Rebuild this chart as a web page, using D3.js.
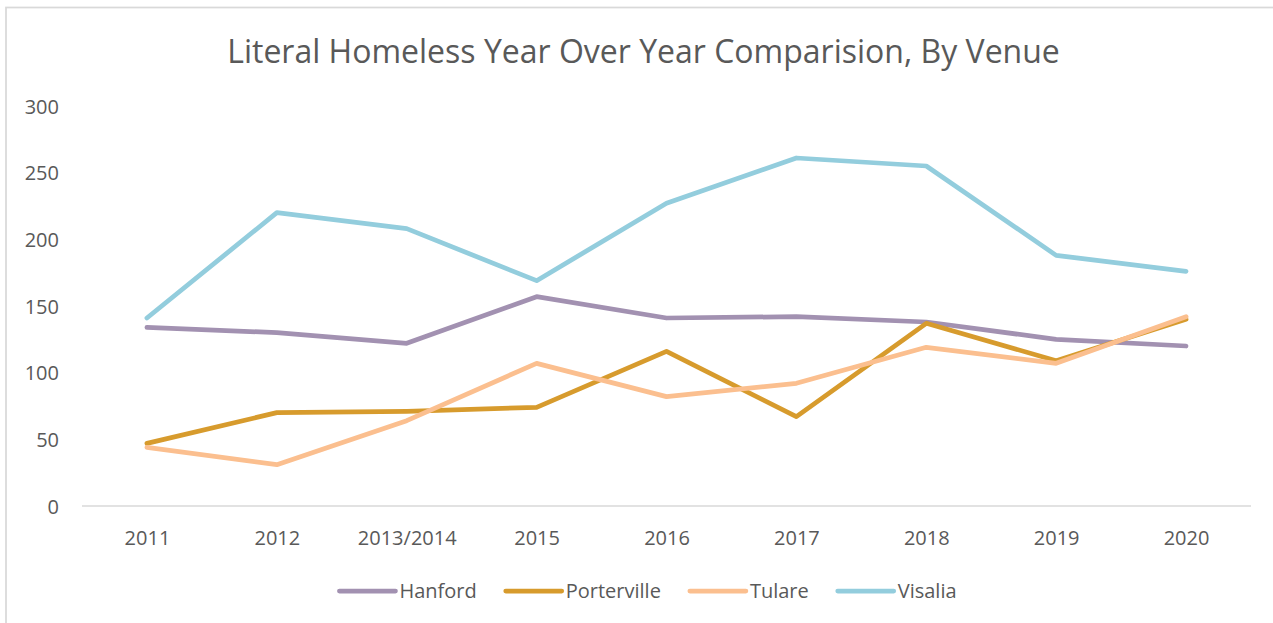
<!DOCTYPE html>
<html>
<head>
<meta charset="utf-8">
<script src="https://cdn.jsdelivr.net/npm/d3@7"></script>
<style>
  html, body { margin: 0; padding: 0; background: #ffffff; }
  svg { display: block; }
  text { font-family: "Open Sans", "Noto Sans", sans-serif; fill: #595959; }
</style>
</head>
<body>
<svg id="chart" width="1273" height="623"></svg>
<script>
// Point-in-time count categories
const years = ["2011", "2012", "2013/2014", "2015", "2016", "2017", "2018", "2019", "2020"];

// Literal homeless counts per venue
const hanford     = [134, 130, 122, 157, 141, 142, 138, 125, 120];
const porterville = [47, 70, 71, 74, 116, 67, 137, 109, 140];
const tulare      = [44, 31, 64, 107, 82, 92, 119, 107, 142];
const visalia     = [141, 220, 208, 169, 227, 261, 255, 188, 176];

const seriesNames = ["Hanford", "Porterville", "Tulare", "Visalia"];
const seriesValues = [hanford, porterville, tulare, visalia];
const seriesColors = ["#a291b1", "#d79b2d", "#fbbf8f", "#93cddd"];

const yTicks = [0, 50, 100, 150, 200, 250, 300];

const svg = d3.select("#chart");

// outer chart frame
svg.append("rect")
  .attr("x", 6).attr("y", 7.5)
  .attr("width", 1400).attr("height", 800)
  .attr("fill", "none")
  .attr("stroke", "#d9d9d9")
  .attr("stroke-width", 1.75);

const plot = { left: 82, right: 1251, top: 106, bottom: 506 };

const x = d3.scalePoint()
  .domain(years)
  .range([plot.left, plot.right])
  .padding(0.5);

const y = d3.scaleLinear()
  .domain([0, 300])
  .range([plot.bottom, plot.top]);

// title
svg.append("text")
  .attr("x", 643.5)
  .attr("y", 63)
  .attr("text-anchor", "middle")
  .style("font-size", "32px")
  .text("Literal Homeless Year Over Year Comparision, By Venue");

// y axis labels
const yAxis = d3.axisLeft(y).tickValues(yTicks).tickSize(0).tickPadding(0);
const gy = svg.append("g").attr("transform", `translate(59,0)`).call(yAxis);
gy.select(".domain").remove();
gy.selectAll("text")
  .style("font-size", "20px")
  .style("font-family", null)
  .attr("fill", "#595959")
  .attr("dy", "0.35em");

// x axis with baseline
const xAxis = d3.axisBottom(x).tickSize(0).tickPadding(0);
const gx = svg.append("g").attr("transform", `translate(0,${plot.bottom})`).call(xAxis);
gx.select(".domain")
  .attr("d", `M${plot.left},0H${plot.right}`)
  .attr("stroke", "#d9d9d9")
  .attr("stroke-width", 1.5);
gx.selectAll("text")
  .style("font-size", "20px")
  .style("font-family", null)
  .attr("fill", "#595959")
  .attr("y", 32)
  .attr("dy", "0.35em");

// series lines
const line = d3.line()
  .x((d, i) => x(years[i]))
  .y(d => y(d));

svg.append("g")
  .selectAll("path")
  .data(seriesValues)
  .join("path")
  .attr("d", line)
  .attr("fill", "none")
  .attr("stroke", (d, i) => seriesColors[i])
  .attr("stroke-width", 4.75)
  .attr("stroke-linecap", "round")
  .attr("stroke-linejoin", "round");

// legend, centered under the plot
const legend = svg.append("g");
const legendY = 591;
const swatch = 56, swatchGap = 4, itemGap = 29;
const items = seriesNames.map((name, i) => {
  const g = legend.append("g");
  g.append("line")
    .attr("x1", 0).attr("x2", swatch)
    .attr("y1", 0).attr("y2", 0)
    .attr("stroke", seriesColors[i])
    .attr("stroke-width", 4.75)
    .attr("stroke-linecap", "round");
  const t = g.append("text")
    .attr("x", swatch + swatchGap)
    .attr("y", 0)
    .attr("dy", "0.35em")
    .style("font-size", "20px")
    .text(name);
  return { g, w: swatch + swatchGap + t.node().getComputedTextLength() };
});
const total = d3.sum(items, d => d.w) + itemGap * (items.length - 1);
let cx = 648 - total / 2;
items.forEach(it => {
  it.g.attr("transform", `translate(${cx},${legendY})`);
  cx += it.w + itemGap;
});
</script>
</body>
</html>
